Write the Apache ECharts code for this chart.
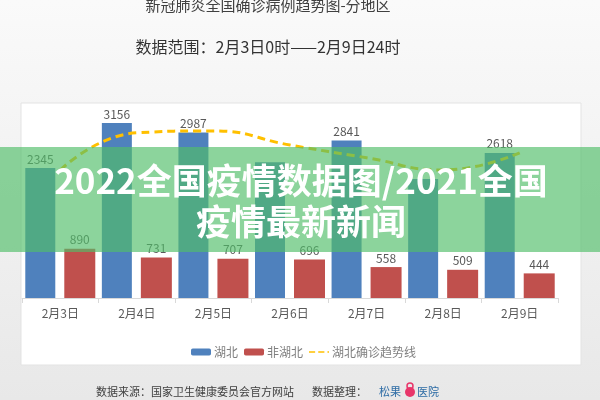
<!DOCTYPE html>
<html>
<head>
<meta charset="utf-8">
<script src="https://cdn.jsdelivr.net/npm/echarts@6/dist/echarts.min.js"></script>
<style>
html,body{margin:0;padding:0;background:#f2f2f2;}
#c{width:600px;height:400px;}
</style>
</head>
<body>
<div id="c"></div>
<script>
var categories = ['2月3日','2月4日','2月5日','2月6日','2月7日','2月8日','2月9日'];
var hubei = [2345, 3156, 2987, 2447, 2841, 2147, 2618];
var nonHubei = [890, 731, 707, 696, 558, 509, 444];
var trend = [2310, 2980, 3015, 2760, 2530, 2310, 2620];
var hiddenHubeiLabels = ['2月6日', '2月8日'];

var FONT = '"Noto Sans CJK SC", "Microsoft YaHei", sans-serif';
var hubeiData = hubei.map(function (v, i) {
  return hiddenHubeiLabels.indexOf(categories[i]) >= 0 ? {value: v, label: {show: false}} : v;
});
var chart = echarts.init(document.getElementById('c'));
chart.setOption({
  animation: false,
  textStyle: {fontFamily: FONT},
  grid: {left: 22, right: 42, top: 104, bottom: 102},
  xAxis: {
    type: 'category',
    data: categories,
    axisLine: {lineStyle: {color: '#d9d9d9'}},
    axisTick: {show: true, length: 5, lineStyle: {color: '#d9d9d9'}},
    axisLabel: {color: '#595959', fontSize: 12, margin: 9, fontFamily: FONT}
  },
  yAxis: {
    type: 'value', min: 0, max: 3500, show: false,
    splitLine: {show: false}
  },
  legend: {
    left: 186, top: 341,
    itemWidth: 20, itemHeight: 7, itemGap: 6,
    textStyle: {color: '#7f7f7f', fontSize: 12, fontFamily: FONT, padding: [0, 0, 0, -2]},
    data: ['湖北', '非湖北', {name: '湖北确诊趋势线', icon: 'path://M0,0 L8,0 L8,2 L0,2 Z M12,0 L20,0 L20,2 L12,2 Z M24,0 L26,0 L26,2 L24,2 Z', itemStyle: {color: '#ffc000'}}]
  },
  series: [
    {
      name: '湖北', type: 'bar', data: hubeiData,
      barWidth: 30, barGap: '30%',
      itemStyle: {color: '#4f81bd'},
      label: {show: true, position: 'top', distance: 3, color: '#595959', fontSize: 12, fontFamily: FONT}
    },
    {
      name: '非湖北', type: 'bar', data: nonHubei,
      barWidth: 31,
      itemStyle: {color: '#c0504d'},
      label: {show: true, position: 'top', distance: 3, color: '#595959', fontSize: 12, fontFamily: FONT}
    },
    {
      name: '湖北确诊趋势线', type: 'line', data: trend,
      smooth: 0.5, symbol: 'none', z: 5,
      lineStyle: {color: '#ffc000', width: 3, type: [8, 5]},
      itemStyle: {color: '#ffc000'}
    }
  ],
  graphic: [
    {type: 'rect', z: -20, silent: true, shape: {x: 0, y: 0, width: 600, height: 400},
      style: {fill: {type: 'linear', x: 0, y: 0, x2: 0, y2: 1, colorStops: [{offset: 0, color: '#fafafa'}, {offset: 1, color: '#e8e8e8'}]}}},
    {type: 'rect', z: -19, silent: true, shape: {x: 21, y: 103, width: 560, height: 262},
      style: {fill: '#ffffff', stroke: '#e3e3e3', lineWidth: 1}},
    {type: 'text', z: 50, silent: true,
      style: {text: '新冠肺炎全国确诊病例趋势图-分地区', fill: '#404040', font: '15px ' + FONT, x: 268, y: 5, textAlign: 'center', textVerticalAlign: 'middle'}},
    {type: 'text', z: 50, silent: true,
      style: {text: '数据范围：2月3日0时——2月9日24时', fill: '#333333', font: '16px ' + FONT, x: 268, y: 47, textAlign: 'center', textVerticalAlign: 'middle'}},
    {type: 'text', z: 50, silent: true,
      style: {x: 96, y: 392, textVerticalAlign: 'middle',
        text: '{g|数据来源：国家卫生健康委员会官方网站}{s1|}{g|数据整理：}{s2|}{b|松果}{s3|}{b|医院}',
        rich: {
          g: {fill: '#404040', fontSize: 11, fontFamily: FONT},
          b: {fill: '#2e6ca5', fontSize: 11, fontFamily: FONT},
          s1: {width: 18},
          s2: {width: 12},
          s3: {width: 16}
        }}},
    {type: 'circle', z: 51, silent: true, shape: {cx: 410, cy: 392, r: 5}, style: {fill: '#e8366a'}},
    {type: 'circle', z: 51, silent: true, shape: {cx: 410, cy: 386, r: 3}, style: {fill: 'none', stroke: '#e8366a', lineWidth: 1.5}},
    {type: 'rect', z: 100, silent: true, shape: {x: 0, y: 147, width: 600, height: 105},
      style: {fill: 'rgba(81,190,104,0.66)'}},
    {type: 'text', z: 101, silent: true,
      style: {text: '2022全国疫情数据图/2021全国', x: 301, y: 181, textAlign: 'center', textVerticalAlign: 'middle',
        fill: '#ffffff', font: 'bold 35px ' + FONT}},
    {type: 'text', z: 101, silent: true,
      style: {text: '疫情最新新闻', x: 301, y: 222, textAlign: 'center', textVerticalAlign: 'middle',
        fill: '#ffffff', font: 'bold 35px ' + FONT}}
  ]
});
</script>
</body>
</html>
